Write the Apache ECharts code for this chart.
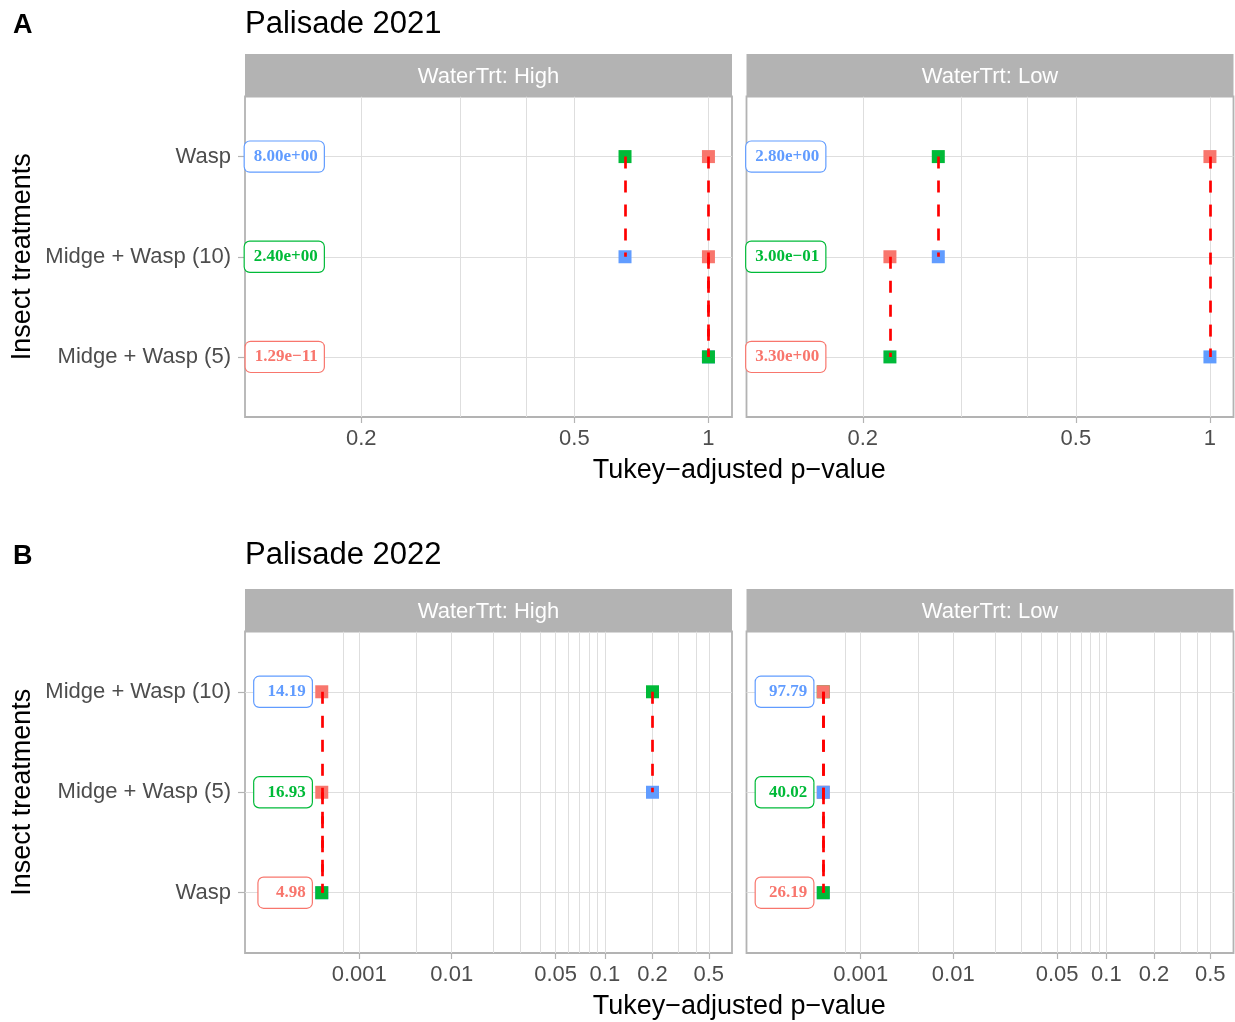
<!DOCTYPE html>
<html>
<head>
<meta charset="utf-8">
<title>Palisade Tukey comparisons</title>
<script src="https://cdn.jsdelivr.net/npm/echarts@6/dist/echarts.min.js"></script>
<style>
  html, body { margin: 0; padding: 0; background: #ffffff; }
  #chart { width: 1235px; height: 1022px; }
</style>
</head>
<body>
<div id="chart"></div>
<script>
// Insect treatment rows, listed top to bottom in each panel
const rows2021 = ['Wasp', 'Midge + Wasp (10)', 'Midge + Wasp (5)'];
const rows2022 = ['Midge + Wasp (10)', 'Midge + Wasp (5)', 'Wasp'];
const waterLevels = ['High', 'Low'];

// Tukey-adjusted p-values for the row pairs [top-middle, top-bottom, middle-bottom]
const pvals2021High = [0.64, 1, 1];
const pvals2021Low = [0.272, 1, 0.223];
const pvals2022High = [0.2, 0.0001, 0.0001];
const pvals2022Low = [0.0001, 0.0001, 0.0001];

// Per-row values printed in the boxes (top to bottom)
const values2021High = [8.00, 2.40, 1.29e-11];
const values2021Low = [2.80, 0.30, 3.30];
const values2022High = [14.19, 16.93, 4.98];
const values2022Low = [97.79, 40.02, 26.19];

// p-value axis breaks
const majorBreaks = [0.001, 0.01, 0.05, 0.1, 0.2, 0.5, 1];
const majorLabels = ['0.001', '0.01', '0.05', '0.1', '0.2', '0.5', '1'];
const minorBreaks = [0.0005, 0.005, 0.02, 0.03, 0.04, 0.06, 0.07, 0.08, 0.09, 0.3, 0.4];

// Sigmoidal log10 scale for p-values: squeezes both the very small and the near-1 tail
const P_CENTER = -1.15;
const P_WIDTH = 1.69;
const pScale = p => Math.tanh((Math.log10(p) - P_CENTER) / P_WIDTH);

// Label formats
function sciLabel(v) {
  const parts = v.toExponential(2).split('e');
  const sign = parts[1][0] === '-' ? '\u2212' : '+';
  const exp = String(Math.abs(parseInt(parts[1], 10))).padStart(2, '0');
  return parts[0] + 'e' + sign + exp;
}
const fixedLabel = v => v.toFixed(2).padStart(6, ' ');

const SANS = '"Liberation Sans", Arial, Helvetica, sans-serif';
const SERIF = '"Liberation Serif", "Times New Roman", serif';
const ROW_COLORS = ['#619CFF', '#00BA38', '#F8766D'];
const TEXT_GREY = '#4d4d4d';
const GRID_GREY = '#dedede';
const FRAME_GREY = '#b3b3b3';
const PANEL_W = 487;
const FACET_LEFT = [245, 746.5];
const STRIP_H = 42.5;

const figures = [
  {
    tag: 'A', title: 'Palisade 2021', rows: rows2021, fmt: sciLabel,
    tagY: 25.5, titleY: 24.5,
    top: 96.5, height: 320.5, xMin: 0.1498, xMax: 0.6143, labelAnchor: 0.2254,
    facets: [
      { pvals: pvals2021High, values: values2021High },
      { pvals: pvals2021Low, values: values2021Low }
    ]
  },
  {
    tag: 'B', title: 'Palisade 2022', rows: rows2022, fmt: fixedLabel,
    tagY: 556.5, titleY: 555.5,
    top: 631.5, height: 321.5, xMin: -1.2109, xMax: 0.5478, labelAnchor: -0.9679,
    facets: [
      { pvals: pvals2022High, values: values2022High },
      { pvals: pvals2022Low, values: values2022Low }
    ]
  }
];

const PAIRS = [[0, 1], [0, 2], [1, 2]];
function pairP(pvals, a, b) {
  const k = PAIRS.findIndex(pr => (pr[0] === a && pr[1] === b) || (pr[0] === b && pr[1] === a));
  return pvals[k];
}
const rowY = r => 3 - r;   // top row sits at y = 3

function textEl(x, y, text, font, color, align, rotation) {
  return {
    type: 'text', x: x, y: y, rotation: rotation || 0, silent: true, z: 20,
    style: {
      text: text, font: font, fill: color,
      align: align || 'left', verticalAlign: 'middle',
      textAlign: align || 'left', textVerticalAlign: 'middle'
    }
  };
}

const option = {
  animation: false,
  backgroundColor: '#ffffff',
  grid: [], xAxis: [], yAxis: [], series: [], graphic: []
};

figures.forEach(fig => {
  const bottom = fig.top + fig.height;
  const majors = majorBreaks
    .map((p, i) => ({ t: pScale(p), label: majorLabels[i] }))
    .filter(o => o.t >= fig.xMin && o.t <= fig.xMax);
  const minors = minorBreaks.map(pScale).filter(t => t >= fig.xMin && t <= fig.xMax);
  const majorT = majors.map(o => o.t);
  const labelFor = v => {
    let best = majors[0];
    majors.forEach(o => { if (Math.abs(o.t - v) < Math.abs(best.t - v)) best = o; });
    return best.label;
  };

  // figure tag, title and shared axis titles
  option.graphic.push(textEl(13, fig.tagY, fig.tag, 'bold 27px ' + SANS, '#000000', 'left'));
  option.graphic.push(textEl(245, fig.titleY, fig.title, '31px ' + SANS, '#000000', 'left'));
  option.graphic.push(textEl((FACET_LEFT[0] + FACET_LEFT[1] + PANEL_W) / 2, bottom + 54,
    'Tukey\u2212adjusted p\u2212value', '27px ' + SANS, '#000000', 'center'));
  option.graphic.push(textEl(23, fig.top + fig.height / 2, 'Insect treatments',
    '27px ' + SANS, '#000000', 'center', Math.PI / 2));

  fig.facets.forEach((facet, k) => {
    const left = FACET_LEFT[k];
    const gi = option.grid.length;

    // facet strip
    option.graphic.push({
      type: 'rect', silent: true, z: 5,
      shape: { x: left, y: fig.top - STRIP_H, width: PANEL_W, height: STRIP_H },
      style: { fill: FRAME_GREY }
    });
    option.graphic.push(textEl(left + PANEL_W / 2, fig.top - STRIP_H / 2 + 1.5,
      'WaterTrt: ' + waterLevels[k], '22px ' + SANS, '#ffffff', 'center'));

    option.grid.push({
      left: left, top: fig.top, width: PANEL_W, height: fig.height,
      show: true, backgroundColor: '#ffffff', borderColor: FRAME_GREY, borderWidth: 1.8,
      containLabel: false, outerBoundsMode: 'none'
    });

    const xMain = option.xAxis.length;
    option.xAxis.push({
      type: 'value', gridIndex: gi, min: fig.xMin, max: fig.xMax, position: 'bottom',
      axisLine: { show: false, onZero: false },
      axisTick: { show: true, customValues: majorT, length: 6, lineStyle: { color: FRAME_GREY, width: 1.2 } },
      axisLabel: {
        show: true, customValues: majorT, formatter: v => labelFor(v),
        color: TEXT_GREY, fontSize: 22, fontFamily: SANS, margin: 11
      },
      splitLine: { show: true, lineStyle: { color: GRID_GREY, width: 1 } }
    });
    option.xAxis.push({
      type: 'value', gridIndex: gi, min: fig.xMin, max: fig.xMax, position: 'top',
      axisLine: { show: false, onZero: false },
      axisTick: { show: false, customValues: minors },
      axisLabel: { show: false, customValues: minors },
      splitLine: { show: true, lineStyle: { color: GRID_GREY, width: 1 } }
    });
    const yi = option.yAxis.length;
    option.yAxis.push({
      type: 'value', gridIndex: gi, min: 0.4, max: 3.6, position: 'left',
      axisLine: { show: false, onZero: false },
      axisTick: { show: k === 0, customValues: [1, 2, 3], length: 7, lineStyle: { color: FRAME_GREY, width: 1.2 } },
      axisLabel: {
        show: k === 0, customValues: [1, 2, 3],
        formatter: v => fig.rows[3 - Math.round(v)],
        color: TEXT_GREY, fontSize: 22, fontFamily: SANS, margin: 14
      },
      splitLine: { show: true, lineStyle: { color: GRID_GREY, width: 1 } }
    });

    // points: each row gets one square per other row, coloured by that other row
    const pts = [];
    [1, 2].forEach(step => {
      for (let r = 0; r < 3; r++) {
        const other = (r + step) % 3;
        pts.push({
          value: [pScale(pairP(facet.pvals, r, other)), rowY(r)],
          itemStyle: { color: ROW_COLORS[other], opacity: 1 }
        });
      }
    });
    option.series.push({
      type: 'scatter', xAxisIndex: xMain, yAxisIndex: yi, silent: true, z: 3,
      symbol: 'rect', symbolSize: 13, itemStyle: { opacity: 1 }, data: pts
    });

    // dashed connectors between the two rows of each pair
    option.series.push({
      type: 'lines', coordinateSystem: 'cartesian2d', xAxisIndex: xMain, yAxisIndex: yi,
      silent: true, z: 4, polyline: false,
      lineStyle: { color: '#ff0000', width: 2.7, type: [12, 12], opacity: 1, curveness: 0 },
      data: PAIRS.map((pr, i) => ({
        coords: [[pScale(facet.pvals[i]), rowY(pr[0])], [pScale(facet.pvals[i]), rowY(pr[1])]]
      }))
    });

    // boxed row values
    option.series.push({
      type: 'scatter', xAxisIndex: xMain, yAxisIndex: yi, silent: true, z: 2,
      symbol: 'rect', symbolSize: 1, itemStyle: { color: 'rgba(0,0,0,0)', opacity: 1 },
      label: {
        show: true, position: 'left', distance: 0,
        formatter: p => p.name,
        fontFamily: SERIF, fontWeight: 'bold', fontSize: 17, lineHeight: 20,
        backgroundColor: '#ffffff', borderWidth: 1.2, borderRadius: 5,
        padding: [5, 6, 5, 9]
      },
      data: facet.values.map((v, r) => ({
        name: fig.fmt(v),
        value: [fig.labelAnchor, rowY(r)],
        label: { color: ROW_COLORS[r], borderColor: ROW_COLORS[r] }
      }))
    });
  });
});

const chart = echarts.init(document.getElementById('chart'), null, { renderer: 'canvas' });
chart.setOption(option);
</script>
</body>
</html>
